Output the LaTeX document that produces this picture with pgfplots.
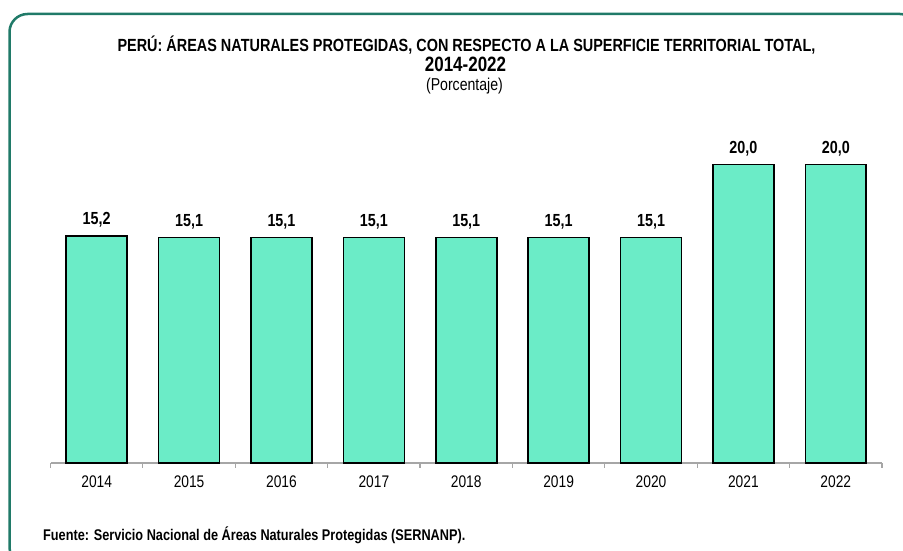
\documentclass[border=0pt]{standalone}
\usepackage{fontspec}
\setmainfont{Liberation Sans}[FakeStretch=0.82]
\usepackage{pgfplots}
\pgfplotsset{compat=1.18}
\definecolor{barfill}{RGB}{107,236,199}
\definecolor{framecol}{RGB}{32,122,104}
\definecolor{axgray}{RGB}{166,166,166}
\begin{document}
\begin{tikzpicture}[x=1pt,y=1pt]
\path[use as bounding box] (0,0) rectangle (903,-551);
\begin{scope}
\clip (0,0) rectangle (903,-551);
\draw[framecol, line width=2.5pt, rounded corners=18pt] (9.5,-14) rectangle (918,-565);
\end{scope}
\node[anchor=base, inner sep=0pt, font=\fontsize{17.6}{20}\selectfont\bfseries] at (466.5,-52) {PERÚ: ÁREAS NATURALES PROTEGIDAS, CON RESPECTO A LA SUPERFICIE TERRITORIAL TOTAL,};
\node[anchor=base, inner sep=0pt, font=\fontsize{20.7}{24}\selectfont\bfseries] at (465.5,-71.7) {2014-2022};
\node[anchor=base, inner sep=0pt, font=\fontsize{17.2}{20}\selectfont] at (464.5,-91) {(Porcentaje)};
\node[anchor=base west, inner sep=0pt, font=\fontsize{15.5}{18}\selectfont\bfseries] at (43,-540.5) {Fuente: Servicio Nacional de Áreas Naturales Protegidas (SERNANP).};
\begin{axis}[
  at={(50.5pt,-462.7pt)}, anchor=south west,
  scale only axis, width=831.5pt, height=328pt,
  xmin=-0.5, xmax=8.5, ymin=0, ymax=22,
  clip=false,
  axis x line=bottom, axis y line=none,
  axis line style={draw=axgray, line width=2pt, -},
  ytick=\empty,
  xtick={0,1,2,3,4,5,6,7,8},
  xticklabels={2014,2015,2016,2017,2018,2019,2020,2021,2022},
  major tick length=0pt,
  minor xtick={-0.5,0.5,1.5,2.5,3.5,4.5,5.5,6.5,7.5,8.5},
  minor tick length=5pt, tick align=outside,
  minor tick style={draw=axgray, line width=1.2pt},
  /pgf/number format/assume math mode=true,
  xticklabel style={font=\fontsize{16.8}{20}\selectfont, anchor=base, inner sep=0pt, yshift=-24.6pt},
  ybar, bar width=0.66,
  nodes near coords={\pgfmathprintnumber[fixed, fixed zerofill, precision=1, use comma]{\pgfplotspointmeta}},
  every node near coord/.append style={font=\fontsize{17.5}{20}\selectfont\bfseries, anchor=base, inner sep=0pt, yshift=11.3pt},
]
\addplot[draw=black, line width=1.6pt, fill=barfill] coordinates {
  (0,15.2) (1,15.1) (2,15.1) (3,15.1) (4,15.1) (5,15.1) (6,15.1) (7,20.0) (8,20.0)
};
\end{axis}
\end{tikzpicture}
\end{document}
